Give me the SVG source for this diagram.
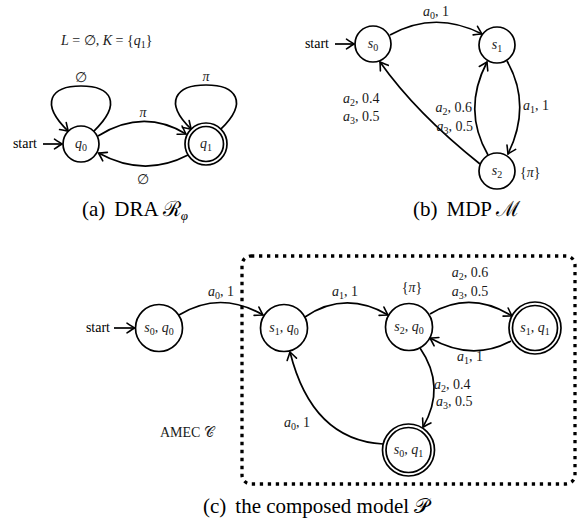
<svg xmlns="http://www.w3.org/2000/svg" width="586" height="527" viewBox="0 0 586 527">
<style>
  text { font-family: "Liberation Serif", "DejaVu Serif", serif; fill: #1a1a1a; }
  .lb { font-size: 14px; }
  .i { font-style: italic; }
  .sub { font-size: 10px; }
  .cap { font-size: 21px; fill: #000; }
  .st { font-size: 14px; fill: #000; }
  .node { fill: #fff; stroke: #000; stroke-width: 1.7; }
  .edge { fill: none; stroke: #000; stroke-width: 1.7; marker-end: url(#arr); }
</style>
<defs>
  <marker id="arr" viewBox="-10 -6 12 12" refX="0" refY="0" markerWidth="12" markerHeight="12" markerUnits="userSpaceOnUse" orient="auto" overflow="visible">
    <path d="M -7.5,-4.8 Q -2,-1.2 0,0 Q -2,1.2 -7.5,4.8" fill="none" stroke="#000" stroke-width="1.6" stroke-linecap="round"/>
  </marker>
</defs>

<!-- Panel (a) -->
<text class="lb" x="61" y="45"><tspan class="i">L</tspan> = ∅, <tspan class="i">K</tspan> = {<tspan class="i">q</tspan><tspan class="sub" dy="3">1</tspan><tspan dy="-3">}</tspan></text>

<g id="connectors">
  <!-- (a) -->
  <line class="edge" x1="43" y1="144" x2="62" y2="144"/>
  <path class="edge" d="M 93.7,131.3 C 123,103 111,86 81,86 C 51,86 39,103 68.3,131.3"/>
  <path class="edge" d="M 220.8,129.2 C 249,102 236,85 206,85 C 176,85 163,102 191.2,129.2"/>
  <path class="edge" d="M 98,136 Q 143,108 186,134"/>
  <path class="edge" d="M 188,155 Q 144,178 98.5,153"/>
  <!-- (b) -->
  <line class="edge" x1="335" y1="44" x2="354" y2="44"/>
  <path class="edge" d="M 390,35 Q 435,10 482,34"/>
  <path class="edge" d="M 507,61 Q 532,105 508,154"/>
  <path class="edge" d="M 488,155 Q 462,110 487,62"/>
  <path class="edge" d="M 480,164 Q 416,113 380,62"/>
  <!-- (c) -->
  <line class="edge" x1="114" y1="328" x2="134.5" y2="328"/>
  <path class="edge" d="M 179,315 Q 220,290 263,315"/>
  <path class="edge" d="M 305,317 Q 345,290 388,315"/>
  <path class="edge" d="M 430,314 Q 470,290 512,316"/>
  <path class="edge" d="M 511,341 Q 472,362 430,338"/>
  <path class="edge" d="M 420,348 Q 446.5,386.5 423,427"/>
  <path class="edge" d="M 383,444 Q 312,440 290,352"/>
</g>

<text class="st" x="37" y="148" text-anchor="end">start</text>
<text class="lb" x="81" y="82" text-anchor="middle">∅</text>
<text class="lb i" x="206" y="81" text-anchor="middle">π</text>
<text class="lb i" x="143" y="117" text-anchor="middle">π</text>
<text class="lb" x="143" y="184" text-anchor="middle">∅</text>

<g id="q0">
  <circle class="node" cx="81" cy="144" r="18"/>
  <text class="lb" x="81" y="148" text-anchor="middle"><tspan class="i">q</tspan><tspan class="sub" dy="3">0</tspan></text>
</g>
<g id="q1">
  <circle class="node" cx="206" cy="144" r="21"/>
  <circle class="node" cx="206" cy="144" r="17.5"/>
  <text class="lb" x="206" y="148" text-anchor="middle"><tspan class="i">q</tspan><tspan class="sub" dy="3">1</tspan></text>
</g>

<text class="cap" x="82" y="216">(a)<tspan dx="9">DRA ℛ</tspan><tspan class="i" font-size="13" dy="4">φ</tspan></text>

<!-- Panel (b) -->
<text class="st" x="329" y="48" text-anchor="end">start</text>
<text class="lb" x="436" y="16" text-anchor="middle"><tspan class="i">a</tspan><tspan class="sub" dy="3">0</tspan><tspan dy="-3">, 1</tspan></text>
<text class="lb" x="523" y="110"><tspan class="i">a</tspan><tspan class="sub" dy="3">1</tspan><tspan dy="-3">, 1</tspan></text>
<text class="lb" x="472" y="112" text-anchor="end"><tspan class="i">a</tspan><tspan class="sub" dy="3">2</tspan><tspan dy="-3">, 0.6</tspan></text>
<text class="lb" x="473" y="131" text-anchor="end"><tspan class="i">a</tspan><tspan class="sub" dy="3">3</tspan><tspan dy="-3">, 0.5</tspan></text>
<text class="lb" x="343" y="103"><tspan class="i">a</tspan><tspan class="sub" dy="3">2</tspan><tspan dy="-3">, 0.4</tspan></text>
<text class="lb" x="343" y="121"><tspan class="i">a</tspan><tspan class="sub" dy="3">3</tspan><tspan dy="-3">, 0.5</tspan></text>
<text class="lb" x="520" y="177">{<tspan class="i">π</tspan>}</text>

<g id="s0">
  <circle class="node" cx="373" cy="44" r="18"/>
  <text class="lb" x="373" y="48" text-anchor="middle"><tspan class="i">s</tspan><tspan class="sub" dy="3">0</tspan></text>
</g>
<g id="s1">
  <circle class="node" cx="497" cy="45" r="18"/>
  <text class="lb" x="497" y="49" text-anchor="middle"><tspan class="i">s</tspan><tspan class="sub" dy="3">1</tspan></text>
</g>
<g id="s2">
  <circle class="node" cx="497" cy="171" r="18"/>
  <text class="lb" x="497" y="175" text-anchor="middle"><tspan class="i">s</tspan><tspan class="sub" dy="3">2</tspan></text>
</g>

<text class="cap" x="413" y="216">(b)<tspan dx="9">MDP ℳ</tspan></text>

<!-- Panel (c) -->
<rect x="242" y="256" width="333" height="228" rx="9" fill="none" stroke="#000" stroke-width="3.3" stroke-dasharray="3.3 4.7"/>

<text class="st" x="110" y="332" text-anchor="end">start</text>
<text class="lb" x="221" y="296" text-anchor="middle"><tspan class="i">a</tspan><tspan class="sub" dy="3">0</tspan><tspan dy="-3">, 1</tspan></text>
<text class="lb" x="345" y="296" text-anchor="middle"><tspan class="i">a</tspan><tspan class="sub" dy="3">1</tspan><tspan dy="-3">, 1</tspan></text>
<text class="lb" x="412" y="292" text-anchor="middle">{<tspan class="i">π</tspan>}</text>
<text class="lb" x="470" y="277" text-anchor="middle"><tspan class="i">a</tspan><tspan class="sub" dy="3">2</tspan><tspan dy="-3">, 0.6</tspan></text>
<text class="lb" x="470" y="296" text-anchor="middle"><tspan class="i">a</tspan><tspan class="sub" dy="3">3</tspan><tspan dy="-3">, 0.5</tspan></text>
<text class="lb" x="470" y="361" text-anchor="middle"><tspan class="i">a</tspan><tspan class="sub" dy="3">1</tspan><tspan dy="-3">, 1</tspan></text>
<text class="lb" x="434" y="389"><tspan class="i">a</tspan><tspan class="sub" dy="3">2</tspan><tspan dy="-3">, 0.4</tspan></text>
<text class="lb" x="436" y="406"><tspan class="i">a</tspan><tspan class="sub" dy="3">3</tspan><tspan dy="-3">, 0.5</tspan></text>
<text class="lb" x="297" y="427" text-anchor="middle"><tspan class="i">a</tspan><tspan class="sub" dy="3">0</tspan><tspan dy="-3">, 1</tspan></text>
<text class="lb" x="160" y="437">AMEC 𝒞</text>

<g id="s0q0">
  <circle class="node" cx="159" cy="328" r="23.5"/>
  <text class="lb" x="159" y="332" text-anchor="middle"><tspan class="i">s</tspan><tspan class="sub" dy="3">0</tspan><tspan dy="-3">, </tspan><tspan class="i">q</tspan><tspan class="sub" dy="3">0</tspan></text>
</g>
<g id="s1q0">
  <circle class="node" cx="284" cy="328" r="23.5"/>
  <text class="lb" x="284" y="332" text-anchor="middle"><tspan class="i">s</tspan><tspan class="sub" dy="3">1</tspan><tspan dy="-3">, </tspan><tspan class="i">q</tspan><tspan class="sub" dy="3">0</tspan></text>
</g>
<g id="s2q0">
  <circle class="node" cx="409" cy="327" r="23.5"/>
  <text class="lb" x="409" y="331" text-anchor="middle"><tspan class="i">s</tspan><tspan class="sub" dy="3">2</tspan><tspan dy="-3">, </tspan><tspan class="i">q</tspan><tspan class="sub" dy="3">0</tspan></text>
</g>
<g id="s1q1">
  <circle class="node" cx="535" cy="328" r="26"/>
  <circle class="node" cx="535" cy="328" r="22.5"/>
  <text class="lb" x="535" y="332" text-anchor="middle"><tspan class="i">s</tspan><tspan class="sub" dy="3">1</tspan><tspan dy="-3">, </tspan><tspan class="i">q</tspan><tspan class="sub" dy="3">1</tspan></text>
</g>
<g id="s0q1">
  <circle class="node" cx="408.5" cy="450" r="26"/>
  <circle class="node" cx="408.5" cy="450" r="22.5"/>
  <text class="lb" x="408.5" y="454" text-anchor="middle"><tspan class="i">s</tspan><tspan class="sub" dy="3">0</tspan><tspan dy="-3">, </tspan><tspan class="i">q</tspan><tspan class="sub" dy="3">1</tspan></text>
</g>

<text class="cap" x="203" y="513">(c)<tspan dx="9">the composed model 𝒫</tspan></text>
</svg>
